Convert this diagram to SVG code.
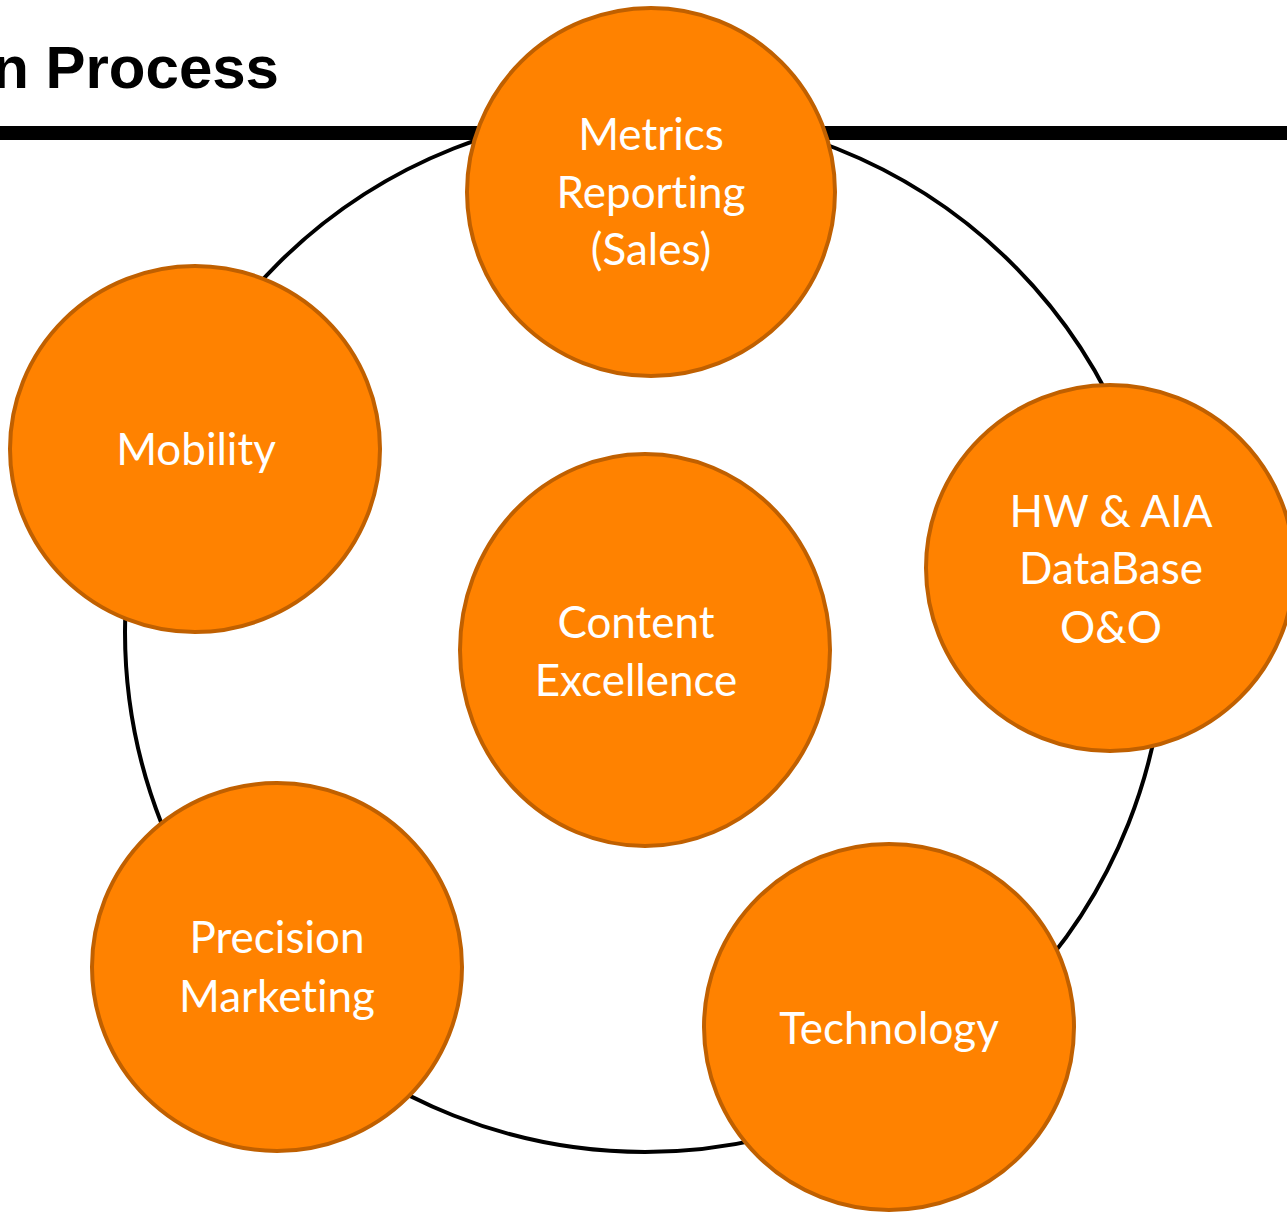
<svg xmlns="http://www.w3.org/2000/svg" width="1287" height="1212" viewBox="0 0 1287 1212">
<style>
.node{fill:#FF8200;stroke:#C06000;stroke-width:4}
.lbl{fill:#FFFFFF;font-family:Lato,"Open Sans","Liberation Sans",sans-serif;font-size:44px;text-anchor:middle;font-variant-ligatures:none;font-feature-settings:"liga" 0}
.title{fill:#000;font-family:"Liberation Sans",Arial,sans-serif;font-weight:bold;font-size:60px;text-anchor:end}
</style>
<rect width="1287" height="1212" fill="#FFFFFF"/>
<text class="title" x="279" y="88">n Process</text>
<g id="connectors">
<line x1="0" y1="133" x2="1287" y2="133" stroke="#000" stroke-width="14"/>
<circle cx="645" cy="632" r="520" fill="none" stroke="#000" stroke-width="4"/>
</g>
<g id="metrics">
<ellipse class="node" cx="651" cy="192" rx="184" ry="184"/>
<text class="lbl" x="651" y="150">Metrics</text>
<text class="lbl" x="651" y="208">Reporting</text>
<text class="lbl" x="651" y="265">(Sales)</text>
</g>
<g id="mobility">
<ellipse class="node" cx="195" cy="449" rx="185" ry="183"/>
<text class="lbl" x="196" y="465">Mobility</text>
</g>
<g id="content">
<ellipse class="node" cx="645" cy="650" rx="185" ry="196"/>
<text class="lbl" x="636" y="638">Content</text>
<text class="lbl" x="636" y="696">Excellence</text>
</g>
<g id="hw">
<ellipse class="node" cx="1110" cy="568" rx="184" ry="183"/>
<text class="lbl" x="1111" y="527">HW &amp; AIA</text>
<text class="lbl" x="1111" y="584">DataBase</text>
<text class="lbl" x="1111" y="643">O&amp;O</text>
</g>
<g id="precision">
<ellipse class="node" cx="277" cy="967" rx="185" ry="184"/>
<text class="lbl" x="277" y="953">Precision</text>
<text class="lbl" x="277" y="1012">Marketing</text>
</g>
<g id="technology">
<ellipse class="node" cx="889" cy="1027" rx="185" ry="183"/>
<text class="lbl" x="889" y="1044">Technology</text>
</g>
</svg>
